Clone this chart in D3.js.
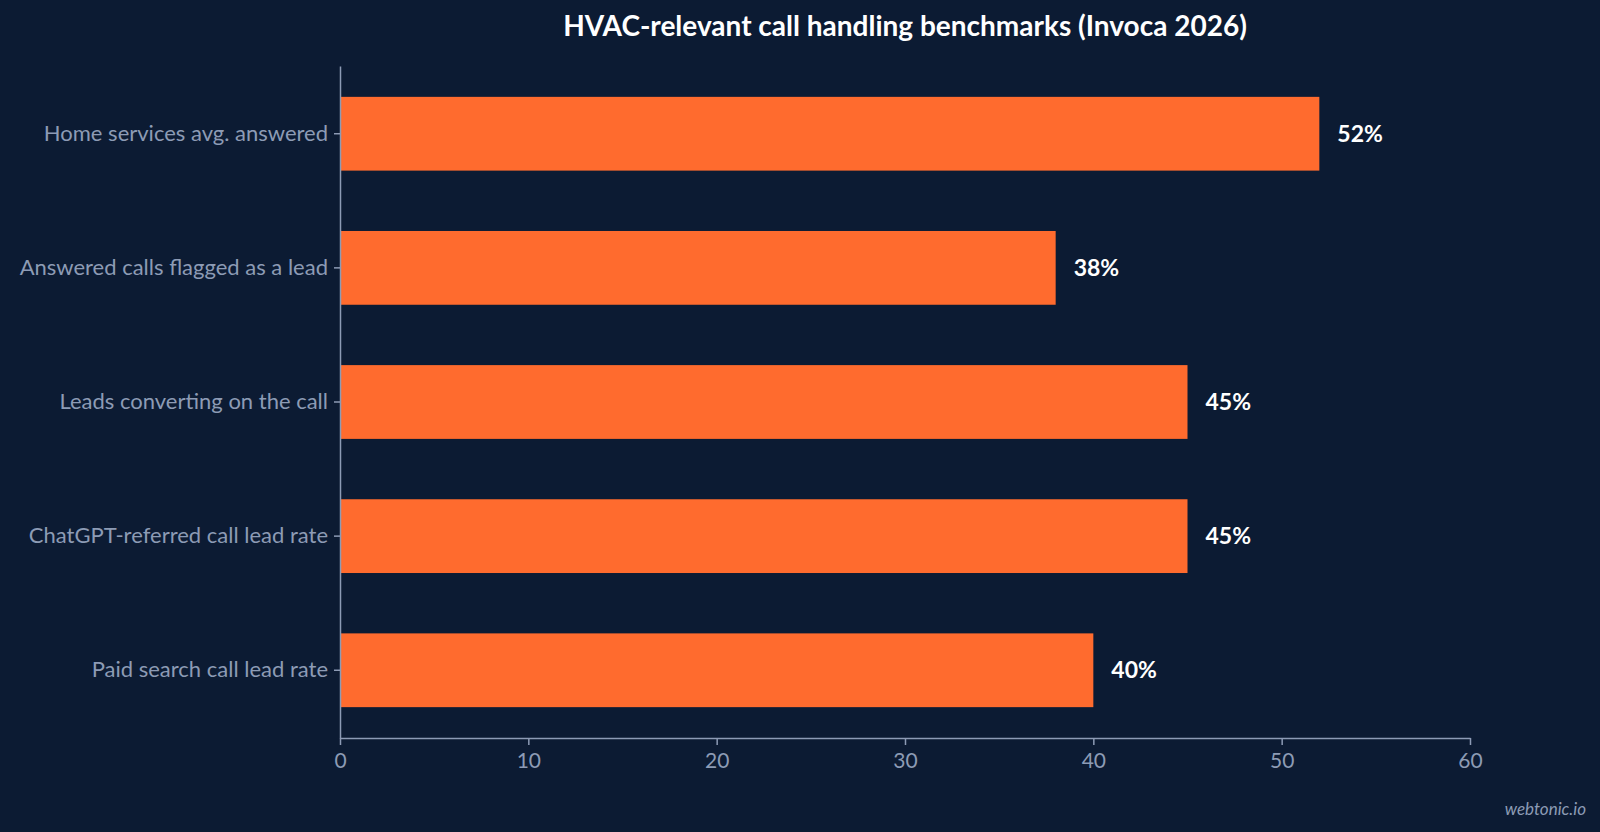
<!DOCTYPE html>
<html><head><meta charset="utf-8">
<script src="https://cdn.jsdelivr.net/npm/d3@7"></script>
<style>body{margin:0;background:#0c1b33;font-family:Lato,sans-serif}</style>
</head><body>
<script>
const categories = ["Home services avg. answered","Answered calls flagged as a lead","Leads converting on the call","ChatGPT-referred call lead rate","Paid search call lead rate"]
const values = [52, 38, 45, 45, 40]
const xTicks = [0, 10, 20, 30, 40, 50, 60]

const width = 1600, height = 832
const margin = {top: 66, right: 130, bottom: 94, left: 340}

const svg = d3.select("body").append("svg")
    .attr("width", width).attr("height", height)
    .style("background", "#0c1b33")

const x = d3.scaleLinear().domain([0, 60]).range([margin.left, width - margin.right])
const y = d3.scaleBand().domain(categories).range([margin.top, height - margin.bottom])
    .paddingInner(0.45).paddingOuter(0.23)

svg.append("text")
    .attr("x", 905).attr("y", 36)
    .attr("text-anchor", "middle")
    .attr("fill", "#ffffff").attr("font-weight", 700).style("font-size", "28px")
    .text("HVAC-relevant call handling benchmarks (Invoca 2026)")

svg.selectAll(".bar").data(values).join("rect")
    .attr("x", x(0))
    .attr("y", (d, i) => y(categories[i]))
    .attr("width", d => x(d) - x(0))
    .attr("height", y.bandwidth())
    .attr("fill", "#ff6b2e")

svg.selectAll(".val").data(values).join("text")
    .attr("x", d => x(d) + 18)
    .attr("y", (d, i) => y(categories[i]) + y.bandwidth() / 2)
    .attr("dy", "0.35em")
    .attr("fill", "#ffffff").attr("font-weight", 700).style("font-size", "23px")
    .text(d => d + "%")

const xAxis = svg.append("g")
    .attr("transform", `translate(0,${height - margin.bottom})`)
    .call(d3.axisBottom(x).tickValues(xTicks).tickSize(7).tickSizeOuter(0).tickPadding(8))
const yAxis = svg.append("g")
    .attr("transform", `translate(${margin.left},0)`)
    .call(d3.axisLeft(y).tickSize(6).tickSizeOuter(0).tickPadding(6))

for (const a of [xAxis, yAxis]) {
  a.selectAll("path, line").attr("stroke", "#8d9bb5").attr("stroke-width", 1.5)
  a.selectAll("text").attr("fill", "#8d9bb5").style("font-size", "21px").style("font-family", "Lato, sans-serif")
}
yAxis.selectAll("text").style("font-size", "22px")

svg.append("text")
    .attr("x", 1586).attr("y", 815)
    .attr("text-anchor", "end")
    .attr("fill", "#8d9bb5").attr("font-style", "italic").style("font-size", "17px")
    .text("webtonic.io")
</script>
</body></html>
